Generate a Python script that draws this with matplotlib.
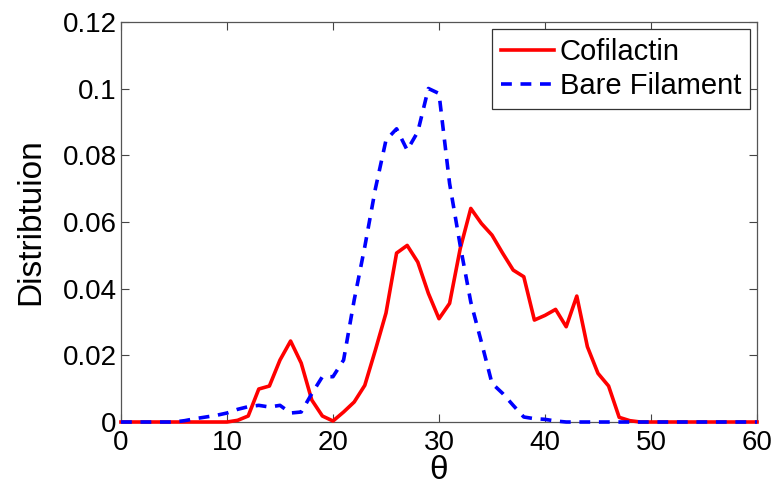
import numpy as np
import matplotlib.pyplot as plt

plt.rcParams['font.family'] = ['Liberation Sans', 'DejaVu Sans']

theta = np.arange(0, 61)

cofilactin = [0, 0, 0, 0, 0, 0, 0, 0, 0, 0,
              0, 0.0005, 0.0018, 0.0099, 0.0108, 0.0186, 0.0243, 0.0177, 0.0066, 0.0018,
              0.0003, 0.003, 0.006, 0.011, 0.0216, 0.0327, 0.0507, 0.053, 0.048, 0.0386,
              0.031, 0.0356, 0.052, 0.0641, 0.0596, 0.0561, 0.0507, 0.0456, 0.0436, 0.0306,
              0.032, 0.0338, 0.0286, 0.0378, 0.0226, 0.0146, 0.0108, 0.0014, 0.0004, 0,
              0, 0, 0, 0, 0, 0, 0, 0, 0, 0, 0]

bare = [0, 0, 0, 0, 0, 0, 0.0004, 0.001, 0.0015, 0.002,
        0.0027, 0.0038, 0.0046, 0.005, 0.0045, 0.005, 0.0027, 0.003, 0.0085, 0.0136,
        0.0136, 0.0186, 0.0366, 0.0526, 0.07, 0.0846, 0.088, 0.0816, 0.0871, 0.1001,
        0.0986, 0.0716, 0.053, 0.036, 0.024, 0.0116, 0.0086, 0.005, 0.0015, 0.001,
        0.0008, 0.0003, 0, 0, 0, 0, 0, 0, 0, 0,
        0, 0, 0, 0, 0, 0, 0, 0, 0, 0, 0]

fig = plt.figure(figsize=(7.78, 4.93), dpi=100)
ax = fig.add_axes([0.1555, 0.144, 0.8175, 0.811])

ax.plot(theta, cofilactin, color='red', lw=2.6, label='Cofilactin', clip_on=False, zorder=3)
ax.plot(theta, bare, color='blue', lw=2.6, ls=(0, (3.0, 2.4)), label='Bare Filament', clip_on=False, zorder=4)

ax.set_xlim(0, 60)
ax.set_ylim(0, 0.12)
ax.set_xticks(np.arange(0, 61, 10))
ax.set_yticks([0, 0.02, 0.04, 0.06, 0.08, 0.1, 0.12])
ax.set_yticklabels(['0', '0.02', '0.04', '0.06', '0.08', '0.1', '0.12'])
ax.tick_params(direction='in', top=True, right=True, labelsize=20, length=6, width=0.8,
               colors='#444444', labelcolor='black', pad=3)
ax.tick_params(axis='x', pad=6)
for s in ax.spines.values():
    s.set_color('#555555')
    s.set_linewidth(0.9)

ax.set_xlabel('θ', fontsize=24, labelpad=-1)
ax.set_ylabel('Distribtuion', fontsize=24, labelpad=12)

leg = ax.legend(loc='upper right', fontsize=21, fancybox=False, framealpha=1,
                edgecolor='#333333', handlelength=1.8, handletextpad=0.2,
                borderpad=0.3, labelspacing=0.2, borderaxespad=0.25)
leg.get_frame().set_linewidth(0.9)

fig.savefig('out.png', dpi=100)
